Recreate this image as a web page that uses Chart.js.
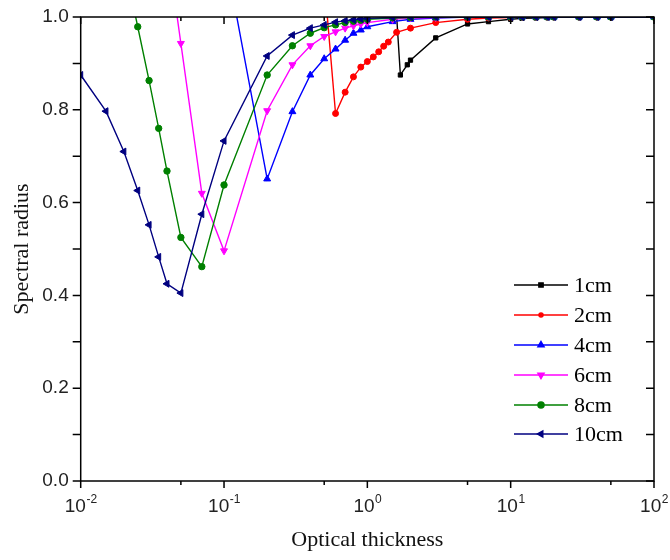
<!DOCTYPE html>
<html>
<head>
<meta charset="utf-8">
<script src="https://cdn.jsdelivr.net/npm/chart.js@4.4.1/dist/chart.umd.min.js"></script>
<style>
  html, body { margin: 0; padding: 0; background: #fff; }
  #wrap { width: 670px; height: 560px; position: relative; }
</style>
</head>
<body>
<div id="wrap"><canvas id="chart"></canvas></div>
<script>
// series data (x = optical thickness, y = spectral radius)
const x1cm = [1.5, 1.7, 1.9, 2, 3, 5, 7, 10, 12, 15, 18, 20, 30, 40, 50, 100];
const y1cm = [1.14, 0.875, 0.897, 0.907, 0.955, 0.985, 0.99, 0.995, 0.997, 0.998, 0.999, 1, 1, 1, 1, 1];

const x2cm = [0.5, 0.6, 0.7, 0.8, 0.9, 1, 1.1, 1.2, 1.3, 1.4, 1.6, 2, 3, 5, 7, 10, 12, 15, 18, 20, 30, 40, 50, 100];
const y2cm = [1.08, 0.792, 0.838, 0.871, 0.892, 0.904, 0.914, 0.925, 0.937, 0.946, 0.967, 0.976, 0.988, 0.995, 0.998, 0.999, 1, 1, 1, 1, 1, 1, 1, 1];

const x4cm = [0.1, 0.2, 0.3, 0.4, 0.5, 0.6, 0.7, 0.8, 0.9, 1, 1.5, 2, 3, 5, 7, 10, 12, 15, 18, 20, 30, 40, 50, 100];
const y4cm = [1.147, 0.651, 0.796, 0.875, 0.91, 0.931, 0.95, 0.965, 0.972, 0.979, 0.99, 0.995, 0.998, 1, 1, 1, 1, 1, 1, 1, 1, 1, 1, 1];

const x6cm = [0.04, 0.05, 0.07, 0.1, 0.2, 0.3, 0.4, 0.5, 0.6, 0.7, 0.8, 0.9, 1, 1.5, 2, 3, 5, 7, 10, 12, 15, 18, 20, 30, 40, 50, 100];
const y6cm = [1.157, 0.943, 0.62, 0.496, 0.798, 0.897, 0.938, 0.958, 0.968, 0.976, 0.981, 0.985, 0.988, 0.995, 0.998, 0.999, 1, 1, 1, 1, 1, 1, 1, 1, 1, 1, 1];

const x8cm = [0.02, 0.025, 0.03, 0.035, 0.04, 0.05, 0.07, 0.1, 0.2, 0.3, 0.4, 0.5, 0.6, 0.7, 0.8, 0.9, 1, 1.5, 2, 3, 5, 7, 10, 12, 15, 18, 20, 30, 40, 50, 100];
const y8cm = [1.12, 0.979, 0.863, 0.76, 0.668, 0.525, 0.462, 0.638, 0.875, 0.938, 0.965, 0.977, 0.983, 0.988, 0.991, 0.993, 0.995, 0.998, 0.999, 1, 1, 1, 1, 1, 1, 1, 1, 1, 1, 1, 1];

const x10cm = [0.01, 0.015, 0.02, 0.025, 0.03, 0.035, 0.04, 0.05, 0.07, 0.1, 0.2, 0.3, 0.4, 0.5, 0.6, 0.7, 0.8, 0.9, 1, 1.5, 2, 3, 5, 7, 10, 12, 15, 18, 20, 30, 40, 50, 100];
const y10cm = [0.875, 0.797, 0.71, 0.626, 0.552, 0.483, 0.425, 0.405, 0.575, 0.733, 0.916, 0.961, 0.976, 0.983, 0.989, 0.992, 0.994, 0.996, 0.997, 0.999, 1, 1, 1, 1, 1, 1, 1, 1, 1, 1, 1, 1, 1];

const seriesNames = ["1cm", "2cm", "4cm", "6cm", "8cm", "10cm"];
const seriesX = [x1cm, x2cm, x4cm, x6cm, x8cm, x10cm];
const seriesY = [y1cm, y2cm, y4cm, y6cm, y8cm, y10cm];
const colors = ["#000000", "#ff0000", "#0000ff", "#ff00ff", "#008000", "#000080"];
const markers = ["rect", "circle", "triangle", "triangle", "circle", "triangle"];
const markerRot = [0, 0, 0, 180, 0, 270];
const markerSize = [3, 3, 4, 4, 3.2, 4];

const xMajor = [0.01, 0.1, 1, 10, 100];
const xExp = ["-2", "-1", "0", "1", "2"];
const xMinor = [0.05, 0.5, 5, 50];
const yTicks = [0, 0.1, 0.2, 0.3, 0.4, 0.5, 0.6, 0.7, 0.8, 0.9, 1];

const serif = "'Liberation Serif', 'Times New Roman', serif";
const sans = "'Liberation Sans', Arial, sans-serif";

const datasets = seriesNames.map((name, i) => ({
  label: name,
  data: seriesX[i].map((x, j) => ({ x, y: seriesY[i][j] })),
  borderColor: colors[i],
  backgroundColor: colors[i],
  borderWidth: 1.4,
  pointStyle: markers[i],
  rotation: markerRot[i],
  pointRadius: markerSize[i],
  pointBorderWidth: 1,
  tension: 0,
  order: 5 - i,
}));

const framePlugin = {
  id: "frame",
  afterDraw(chart) {
    const { ctx, chartArea: a } = chart;
    const xs = chart.scales.x;
    const ys = chart.scales.y;
    ctx.save();
    ctx.strokeStyle = "#000";
    ctx.lineWidth = 1.5;
    ctx.strokeRect(a.left, a.top, a.right - a.left, a.bottom - a.top);
    ctx.beginPath();
    xMajor.forEach((v) => {
      const px = xs.getPixelForValue(v);
      ctx.moveTo(px, a.bottom); ctx.lineTo(px, a.bottom + 7);
      ctx.moveTo(px, a.top); ctx.lineTo(px, a.top + 7);
    });
    xMinor.forEach((v) => {
      const px = xs.getPixelForValue(v);
      ctx.moveTo(px, a.bottom); ctx.lineTo(px, a.bottom + 4);
      ctx.moveTo(px, a.top); ctx.lineTo(px, a.top + 4);
    });
    yTicks.forEach((v) => {
      const py = ys.getPixelForValue(v);
      ctx.moveTo(a.left - 8, py); ctx.lineTo(a.left, py);
      ctx.moveTo(a.right, py); ctx.lineTo(a.right - 8, py);
    });
    ctx.stroke();

    // x tick labels with superscript exponents
    ctx.fillStyle = "#222";
    ctx.textBaseline = "alphabetic";
    xMajor.forEach((v, i) => {
      const px = xs.getPixelForValue(v);
      ctx.font = `19px ${sans}`;
      const wBase = ctx.measureText("10").width;
      ctx.font = `12px ${sans}`;
      const wExp = ctx.measureText(xExp[i]).width;
      const left = px - (wBase + wExp) / 2;
      ctx.font = `19px ${sans}`;
      ctx.fillText("10", left, a.bottom + 31);
      ctx.font = `12px ${sans}`;
      ctx.fillText(xExp[i], left + wBase + 0.5, a.bottom + 22);
    });

    // legend inside plot
    const rowY = [285, 315, 345, 375, 405, 434];
    seriesNames.forEach((name, i) => {
      const yy = rowY[i];
      ctx.strokeStyle = colors[i];
      ctx.lineWidth = 1.5;
      ctx.beginPath();
      ctx.moveTo(514, yy); ctx.lineTo(568, yy);
      ctx.stroke();
      ctx.fillStyle = colors[i];
      Chart.helpers.drawPoint(ctx, {
        pointStyle: markers[i],
        rotation: markerRot[i],
        radius: markers[i] === "triangle" ? 3.5 : (i === 1 ? 2 : 3),
        borderWidth: 1,
      }, 541, yy);
      ctx.fillStyle = "#000";
      ctx.font = `22px ${serif}`;
      ctx.textBaseline = "middle";
      ctx.fillText(name, 574, yy + 1);
    });
    ctx.restore();
  },
};

new Chart(document.getElementById("chart"), {
  type: "line",
  data: { datasets },
  options: {
    responsive: true,
    maintainAspectRatio: false,
    animation: false,
    events: [],
    layout: { padding: { left: 0, top: 17, right: 16, bottom: 0 } },
    plugins: { legend: { display: false }, tooltip: { enabled: false } },
    scales: {
      x: {
        type: "logarithmic",
        min: 0.01,
        max: 100,
        grid: { display: false },
        border: { display: false },
        ticks: { display: false },
        title: {
          display: true,
          text: "Optical thickness",
          color: "#111",
          font: { family: serif, size: 22 },
          padding: { top: 0, bottom: 7 },
        },
        afterFit: (s) => { s.height = 79; },
      },
      y: {
        type: "linear",
        min: 0,
        max: 1,
        grid: { display: false },
        border: { display: false },
        ticks: {
          stepSize: 0.2,
          padding: 4,
          color: "#222",
          font: { family: sans, size: 19 },
          callback: (v) => Number(v).toFixed(1),
        },
        title: {
          display: true,
          text: "Spectral radius",
          color: "#111",
          font: { family: serif, size: 22 },
          padding: { top: 9, bottom: 0 },
        },
        afterFit: (s) => { s.width = 80.7; },
      },
    },
  },
  plugins: [framePlugin],
});
</script>
</body>
</html>
